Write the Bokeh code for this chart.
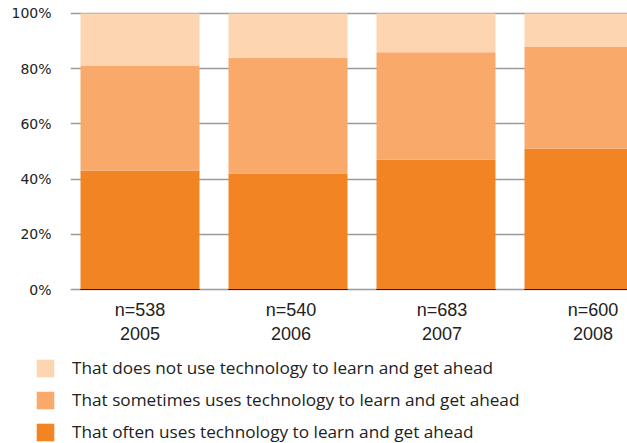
from bokeh.plotting import figure
from bokeh.models import Range1d, FixedTicker, Legend, LegendItem, ColumnDataSource
from bokeh.core.properties import value
from bokeh.embed import file_html
from bokeh.resources import INLINE

years = ["2005", "2006", "2007", "2008"]
sample_sizes = ["n=538", "n=540", "n=683", "n=600"]
often = [43, 42, 47, 51]
sometimes = [38, 42, 39, 37]
does_not = [19, 16, 14, 12]
series_labels = [
    "That does not use technology to learn and get ahead",
    "That sometimes uses technology to learn and get ahead",
    "That often uses technology to learn and get ahead",
]
y_ticks = [0, 20, 40, 60, 80, 100]

C_OFTEN = "#F38423"
C_SOME = "#F9AA6B"
C_NOT = "#FDD5B0"
TXT = "#222222"

LABEL_STEP = 151 / 148  # category labels are spaced slightly wider than the bars

idx = list(range(len(years)))
def make_source():
    s = ColumnDataSource(dict(
        x=idx, often=often, sometimes=sometimes, does_not=does_not,
        n=sample_sizes, year=years,
    ))
    s.data["s_top"] = [a + b for a, b in zip(often, sometimes)]
    s.data["n_top"] = [a + b + c for a, b, c in zip(often, sometimes, does_not)]
    s.data["lx"] = [i * LABEL_STEP for i in idx]
    return s

src = make_source()
W = 0.804

# ---------- main chart ----------
p = figure(width=627, height=350, output_backend="svg", toolbar_location=None,
           x_range=Range1d(-0.4696, 3.294), y_range=Range1d(-22.10, 104.71),
           min_border_left=70, min_border_right=0, min_border_top=0, min_border_bottom=0)
p.outline_line_color = None
p.xaxis.visible = False
p.xgrid.visible = False

yax = p.yaxis[0]
yax.ticker = FixedTicker(ticks=y_ticks)
yax.major_label_overrides = {t: f"{t}%" for t in y_ticks}
yax.axis_line_color = None
yax.major_tick_line_color = None
yax.minor_tick_line_color = None
yax.major_label_text_font = "DejaVu Sans"
yax.major_label_text_font_size = "14px"
yax.major_label_text_color = TXT
yax.major_label_standoff = 13

p.ygrid.ticker = FixedTicker(ticks=y_ticks)
p.ygrid.grid_line_color = "#9a9a9a"
p.ygrid.grid_line_width = 1.5

p.vbar(x="x", bottom=0, top="often", width=W, source=src,
       fill_color=C_OFTEN, line_color=None)
p.vbar(x="x", bottom="often", top="s_top", width=W, source=src,
       fill_color=C_SOME, line_color=None)
p.vbar(x="x", bottom="s_top", top="n_top", width=W, source=src,
       fill_color=C_NOT, line_color=None)
p.vbar(x="x", bottom=0, top=0, width=W, source=src, fill_color=None,
       line_color=TXT, line_width=1)

p.text(x="lx", y=-7.5, text="n", source=src, text_align="center",
       text_baseline="middle", text_font=value("Liberation Sans"),
       text_font_size="18px", text_color=TXT)
p.text(x="lx", y=-15.9, text="year", source=src, text_align="center",
       text_baseline="middle", text_font=value("Liberation Sans"),
       text_font_size="18px", text_color=TXT)

# ---------- legend panel ----------
q = figure(width=627, height=93, output_backend="svg", toolbar_location=None,
           x_range=Range1d(-0.4696, 3.294), y_range=Range1d(0, 100),
           min_border_left=0, min_border_right=0, min_border_top=0, min_border_bottom=0)
q.outline_line_color = None
q.axis.visible = False
q.grid.visible = False

src2 = make_source()
l_often = q.vbar(x="x", bottom=0, top="often", width=W, source=src2,
                 fill_color=C_OFTEN, line_color=None, visible=False)
l_some = q.vbar(x="x", bottom="often", top="s_top", width=W, source=src2,
                fill_color=C_SOME, line_color=None, visible=False)
l_not = q.vbar(x="x", bottom="s_top", top="n_top", width=W, source=src2,
               fill_color=C_NOT, line_color=None, visible=False)

legend = Legend(items=[
    LegendItem(label=series_labels[0], renderers=[l_not]),
    LegendItem(label=series_labels[1], renderers=[l_some]),
    LegendItem(label=series_labels[2], renderers=[l_often]),
], location=(34, 0), orientation="vertical")
legend.glyph_width = 22
legend.glyph_height = 22
legend.label_height = 22
legend.spacing = 9
legend.padding = 0
legend.margin = 0
legend.label_standoff = 16
legend.border_line_color = None
legend.background_fill_alpha = 0
legend.inactive_fill_alpha = 0
legend.label_text_font = "Open Sans"
legend.label_text_font_size = "17.2px"
legend.label_text_color = TXT
legend.label_text_baseline = "middle"
q.add_layout(legend, "center")

open("out.html", "w").write(file_html([p, q], INLINE))
